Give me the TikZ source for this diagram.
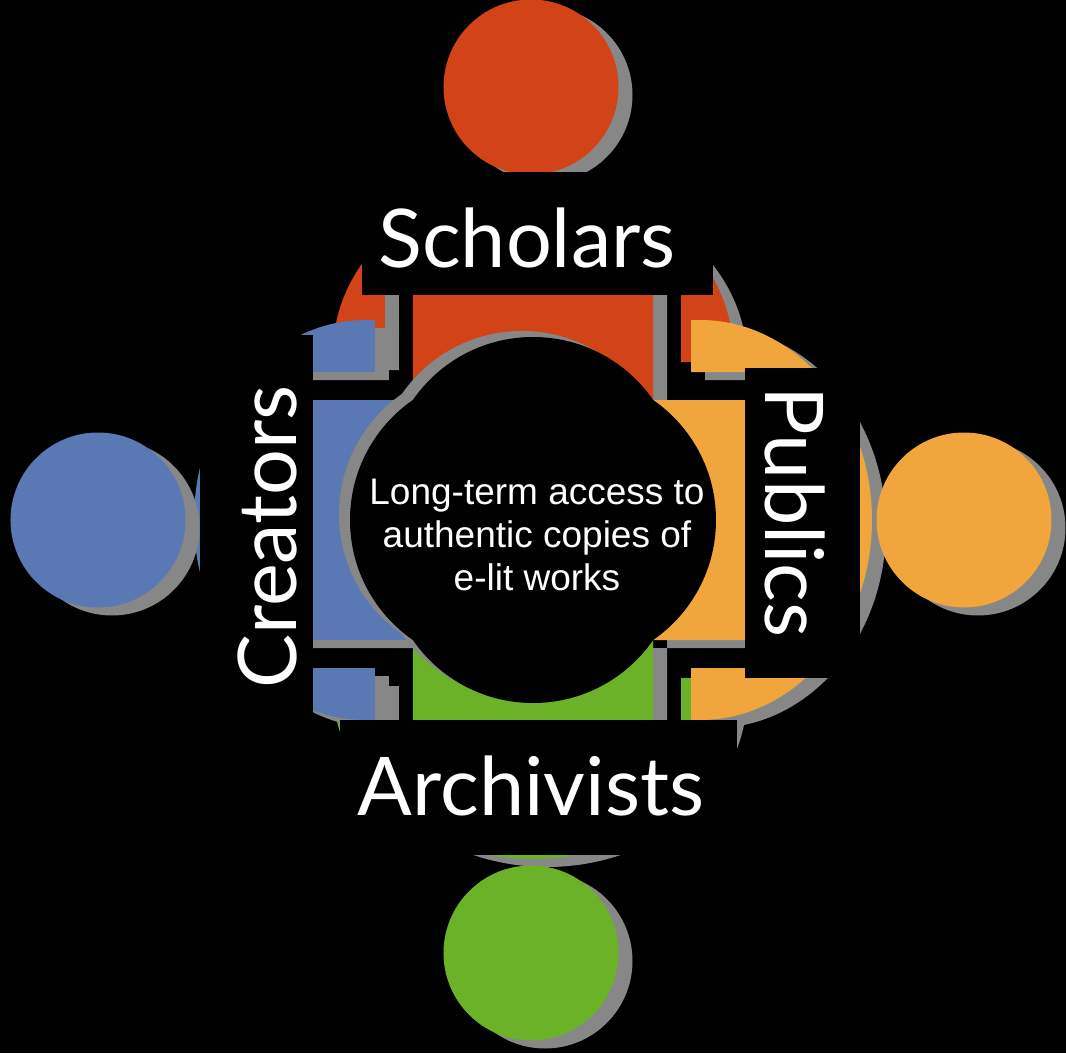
\documentclass[tikz,border=0pt]{standalone}
\usepackage{fontspec}
\newfontfamily\rolefont{Lato}
\newfontfamily\goalfont{Liberation Sans}
\usepackage{tikz}
\usetikzlibrary{shadows}
\definecolor{fdRed}{RGB}{210, 67, 23}
\definecolor{fdBlue}{RGB}{90, 120, 180}
\definecolor{fdOrange}{RGB}{240, 166, 60}
\definecolor{fdGreen}{RGB}{107, 178, 40}
\definecolor{fdShadow}{RGB}{135, 135, 135}
\tikzset{
    ghost/.style={
        fill=fdShadow
    },
    head/.style={
        circle,
        inner sep=0pt,
        minimum size=175pt,
        drop shadow={fill=fdShadow, opacity=1, shadow xshift=14pt, shadow yshift=-8pt}
    },
    rolebox/.style={
        rectangle,
        fill=black,
        inner sep=0pt
    },
    role/.style={
        font=\rolefont\fontsize{81}{90}\selectfont,
        text=white,
        inner sep=0pt
    },
    goal/.style={
        font=\goalfont\fontsize{37}{43}\selectfont,
        text=white,
        align=center
    }
}

\begin{document}
\begin{tikzpicture}[x=1pt, y=1pt]
  \useasboundingbox (-533,-533) rectangle (533,520);
  \fill[black] (-533,-533) rectangle (533,520);

  % Scholars: body
  \begin{scope}[shift={(14,-8)}]
    \clip (0,167) ellipse [x radius=200, y radius=172];
    \fill[ghost] (-300,158) rectangle (-148,420) (148,158) rectangle (300,420) (-120,120) rectangle (120,420);
  \end{scope}
  \begin{scope}
    \clip (0,167) ellipse [x radius=200, y radius=172];
    \fill[fdRed] (-300,158) rectangle (-148,420) (148,158) rectangle (300,420) (-120,120) rectangle (120,420);
  \end{scope}

  % Archivists: body
  \begin{scope}[shift={(14,-8)}, rotate=180]
    \clip (0,167) ellipse [x radius=200, y radius=172];
    \fill[ghost] (-300,158) rectangle (-148,420) (148,158) rectangle (300,420) (-120,120) rectangle (120,420);
  \end{scope}
  \begin{scope}[rotate=180]
    \clip (0,167) ellipse [x radius=200, y radius=172];
    \fill[fdGreen] (-300,158) rectangle (-148,420) (148,158) rectangle (300,420) (-120,120) rectangle (120,420);
  \end{scope}

  % Creators: body
  \begin{scope}[shift={(14,-8)}, rotate=90]
    \clip (0,167) ellipse [x radius=200, y radius=172];
    \fill[ghost] (-300,158) rectangle (-148,420) (148,158) rectangle (300,420) (-120,120) rectangle (120,420);
  \end{scope}
  \begin{scope}[rotate=90]
    \clip (0,167) ellipse [x radius=200, y radius=172];
    \fill[fdBlue] (-300,158) rectangle (-148,420) (148,158) rectangle (300,420) (-120,120) rectangle (120,420);
  \end{scope}

  % Publics: body
  \begin{scope}[shift={(14,-8)}, rotate=-90]
    \clip (0,167) ellipse [x radius=200, y radius=172];
    \fill[ghost] (-300,158) rectangle (-148,420) (148,158) rectangle (300,420) (-120,120) rectangle (120,420);
  \end{scope}
  \begin{scope}[rotate=-90]
    \clip (0,167) ellipse [x radius=200, y radius=172];
    \fill[fdOrange] (-300,158) rectangle (-148,420) (148,158) rectangle (300,420) (-120,120) rectangle (120,420);
  \end{scope}

  % Table in the middle
  \begin{scope}[shift={(-11,6)}]
    \fill[ghost] (0,37) circle [radius=146] (0,-37) circle [radius=146] (37,0) circle [radius=146] (-37,0) circle [radius=146];
  \end{scope}
  \fill[black] (0,37) circle [radius=146] (0,-37) circle [radius=146] (37,0) circle [radius=146] (-37,0) circle [radius=146];
  \node[goal] (goal) at (4,-15) {Long-term access to\\authentic copies of\\e-lit works};

  % Heads
  \node[head, fill=fdRed] (scholarshead) at (-2,433) {};
  \node[head, fill=fdBlue] (creatorshead) at (-435,0) {};
  \node[head, fill=fdOrange] (publicshead) at (431,0) {};
  \node[head, fill=fdGreen] (archivistshead) at (-2,-433) {};

  % Labels
  \node[rolebox, minimum width=351pt, minimum height=123pt] (scholarsbox) at (4.5,286.5) {};
  \node[role, anchor=base] (scholars) at (-6,252) {Scholars};
  \node[rolebox, minimum width=113pt, minimum height=385pt] (creatorsbox) at (-276.5,-7.5) {};
  \node[role, anchor=base, rotate=90] (creators) at (-236,-17) {Creators};
  \node[rolebox, minimum width=115pt, minimum height=310pt] (publicsbox) at (269.5,-3) {};
  \node[role, anchor=base, rotate=-90] (publics) at (232,8) {Publics};
  \node[rolebox, minimum width=397pt, minimum height=135pt] (archivistsbox) at (5.5,-267.5) {};
  \node[role, anchor=base] (archivists) at (-2,-295) {Archivists};

\end{tikzpicture}
\end{document}
